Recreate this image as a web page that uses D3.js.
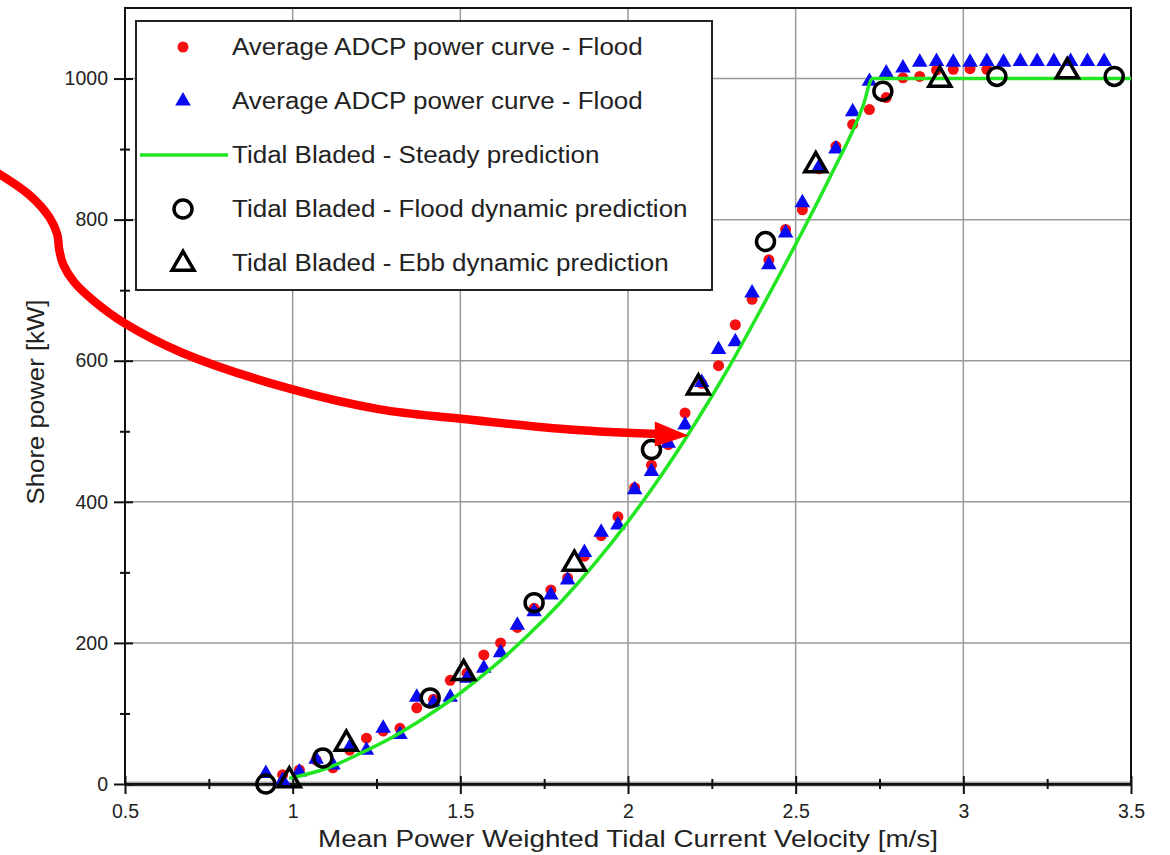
<!DOCTYPE html>
<html>
<head>
<meta charset="utf-8">
<script src="https://cdn.jsdelivr.net/npm/d3@7"></script>
<style>
body { margin: 0; background: #fff; }
text { font-family: "Liberation Sans", Arial, sans-serif; fill: #222; }
</style>
</head>
<body>
<div id="chart"></div>
<script>
// Average ADCP power curve (red dots)
var redV = [0.97, 1.02, 1.07, 1.12, 1.17, 1.22, 1.27, 1.32, 1.37, 1.42, 1.47, 1.52, 1.57, 1.62, 1.67, 1.72, 1.77, 1.82, 1.87, 1.92, 1.97,
            2.02, 2.07, 2.12, 2.17, 2.22, 2.27, 2.32, 2.37, 2.42, 2.47, 2.52, 2.57, 2.62, 2.67, 2.72, 2.77, 2.82, 2.87, 2.92, 2.97, 3.02, 3.07];
var redP = [13, 20, 34, 23, 48, 65, 75, 79, 108, 120, 147, 157, 183, 200, 222, 249, 275, 292, 323, 352, 379,
            420, 452, 481, 526, 568, 593, 651, 687, 743, 786, 814, 872, 904, 935, 956, 973, 1001, 1003, 1012, 1013, 1014, 1013];

// Average ADCP power curve (blue triangles)
var blueV = [0.92, 0.97, 1.02, 1.07, 1.12, 1.17, 1.22, 1.27, 1.32, 1.37, 1.42, 1.47, 1.52, 1.57, 1.62, 1.67, 1.72, 1.77, 1.82, 1.87, 1.92, 1.97,
             2.02, 2.07, 2.12, 2.17, 2.22, 2.27, 2.32, 2.37, 2.42, 2.47, 2.52, 2.57, 2.62, 2.67, 2.72, 2.77, 2.82, 2.87, 2.92, 2.97,
             3.02, 3.07, 3.12, 3.17, 3.22, 3.27, 3.32, 3.37, 3.42];
var blueP = [15, 5, 17, 35, 27, 52, 48, 79, 70, 123, 115, 123, 150, 164, 186, 225, 244, 268, 289, 328, 357, 367,
             417, 443, 483, 509, 569, 616, 627, 696, 736, 781, 824, 875, 900, 953, 996, 1008, 1015, 1023, 1024, 1023,
             1023, 1024, 1023, 1024, 1024, 1024, 1024, 1024, 1024];

// Tidal Bladed steady prediction
var steadyV = [0.99, 1.1, 1.2, 1.3, 1.4, 1.5, 1.6, 1.7, 1.8, 1.9, 2.0, 2.1, 2.2, 2.3, 2.4, 2.5, 2.6, 2.7, 2.73, 3.0, 3.5];
var steadyP = [8, 22, 43, 67, 96, 129, 167, 210, 258, 312, 372, 438, 511, 590, 676, 765, 858, 960, 1000, 1000, 1000];

// Tidal Bladed dynamic predictions
var floodDynV = [0.92, 1.09, 1.41, 1.72, 2.07, 2.41, 2.76, 3.10, 3.45];
var floodDynP = [0, 37, 122, 257, 474, 769, 982, 1003, 1003];
var ebbDynV = [0.99, 1.16, 1.51, 1.84, 2.21, 2.56, 2.93, 3.31];
var ebbDynP = [5, 57, 157, 312, 562, 877, 998, 1010];

var xMajor = [0.5, 1, 1.5, 2, 2.5, 3, 3.5];
var xMinor = [0.75, 1.25, 1.75, 2.25, 2.75, 3.25];
var yMajor = [0, 200, 400, 600, 800, 1000];
var yMinor = [100, 300, 500, 700, 900];

var legendLabels = ["Average ADCP power curve - Flood", "Average ADCP power curve - Flood",
  "Tidal Bladed - Steady prediction", "Tidal Bladed - Flood dynamic prediction", "Tidal Bladed - Ebb dynamic prediction"];

// annotation arrow, in chart units
var arrowPts = [[0.10, 872], [0.215, 835], [0.275, 803], [0.298, 779], [0.304, 757], [0.316, 736], [0.349, 711],
  [0.409, 684], [0.496, 654], [0.672, 611], [0.994, 560], [1.26, 531], [1.495, 518], [1.836, 502], [2.09, 496]];

var zip = function(a, b) { return a.map(function(v, i) { return [v, b[i]]; }); };

var svg = d3.select("#chart").append("svg")
    .attr("width", 1170)
    .attr("height", 855);

var x = d3.scaleLinear().domain([0.5, 3.5]).range([125, 1131]);
var y = d3.scaleLinear().domain([0, 1100]).range([784, 8]);

// grid
svg.append("g").selectAll("line").data([1, 1.5, 2, 2.5, 3]).enter().append("line")
    .attr("x1", x).attr("x2", x).attr("y1", y(0)).attr("y2", y(1100))
    .attr("stroke", "#999").attr("stroke-width", 1.5);
svg.append("g").selectAll("line").data([200, 400, 600, 800, 1000]).enter().append("line")
    .attr("x1", x(0.5)).attr("x2", x(3.5)).attr("y1", y).attr("y2", y)
    .attr("stroke", "#999").attr("stroke-width", 1.5);
svg.append("line")
    .attr("x1", x(0.5)).attr("x2", x(3.5)).attr("y1", y(0)).attr("y2", y(0))
    .attr("stroke", "#aaa").attr("stroke-width", 5);

// frame
svg.append("rect")
    .attr("x", x(0.5)).attr("y", y(1100))
    .attr("width", x(3.5) - x(0.5)).attr("height", y(0) - y(1100))
    .attr("fill", "none").attr("stroke", "#111").attr("stroke-width", 2);

// axes
var gx = svg.append("g").attr("transform", "translate(0," + y(0) + ")")
    .call(d3.axisBottom(x).tickValues(xMajor).tickFormat(d3.format("")).tickSize(10).tickSizeOuter(0).tickPadding(10));
gx.selectAll(".tick line").attr("y1", -8);
var gxm = svg.append("g").attr("transform", "translate(0," + y(0) + ")")
    .call(d3.axisBottom(x).tickValues(xMinor).tickFormat("").tickSize(5).tickSizeOuter(0));
gxm.selectAll(".tick line").attr("y1", -5);
gxm.select(".domain").remove();

var gy = svg.append("g").attr("transform", "translate(" + x(0.5) + ",0)")
    .call(d3.axisLeft(y).tickValues(yMajor).tickFormat(d3.format("d")).tickSize(11).tickSizeOuter(0).tickPadding(6));
gy.selectAll(".tick line").attr("x1", 8);
gy.select(".domain").remove();
var gym = svg.append("g").attr("transform", "translate(" + x(0.5) + ",0)")
    .call(d3.axisLeft(y).tickValues(yMinor).tickFormat("").tickSize(5).tickSizeOuter(0));
gym.selectAll(".tick line").attr("x1", 5);
gym.select(".domain").remove();

svg.selectAll(".tick line").attr("stroke", "#111").attr("stroke-width", 2);
svg.selectAll(".domain").attr("stroke", "#111").attr("stroke-width", 2.5);
svg.selectAll(".tick text").attr("font-size", 19.5).attr("font-family", "Liberation Sans, Arial, sans-serif").attr("fill", "#222");

// axis titles
svg.append("text")
    .attr("x", 628).attr("y", 847)
    .attr("text-anchor", "middle")
    .attr("font-size", 24)
    .attr("textLength", 620).attr("lengthAdjust", "spacingAndGlyphs")
    .text("Mean Power Weighted Tidal Current Velocity [m/s]");
svg.append("text")
    .attr("transform", "translate(44,402) rotate(-90)")
    .attr("text-anchor", "middle")
    .attr("font-size", 23)
    .attr("textLength", 205).attr("lengthAdjust", "spacingAndGlyphs")
    .text("Shore power [kW]");

// data marks
var triSmall = d3.symbol().type(d3.symbolTriangle).size(105);
var triOpen = d3.symbol().type(d3.symbolTriangle).size(210);

svg.append("g").selectAll("circle").data(zip(redV, redP)).enter().append("circle")
    .attr("cx", function(d) { return x(d[0]); })
    .attr("cy", function(d) { return y(d[1]); })
    .attr("r", 5.5)
    .attr("fill", "#f41010");

svg.append("g").selectAll("path").data(zip(blueV, blueP)).enter().append("path")
    .attr("d", triSmall)
    .attr("transform", function(d) { return "translate(" + x(d[0]) + "," + y(d[1]) + ")"; })
    .attr("fill", "#0a0af0");

svg.append("path")
    .datum(zip(steadyV, steadyP))
    .attr("d", d3.line().x(function(d) { return x(d[0]); }).y(function(d) { return y(d[1]); }).curve(d3.curveMonotoneX))
    .attr("fill", "none").attr("stroke", "#22e622").attr("stroke-width", 3.5);

svg.append("g").selectAll("circle").data(zip(floodDynV, floodDynP)).enter().append("circle")
    .attr("cx", function(d) { return x(d[0]); })
    .attr("cy", function(d) { return y(d[1]); })
    .attr("r", 9)
    .attr("fill", "none").attr("stroke", "#000").attr("stroke-width", 3.5);

svg.append("g").selectAll("path").data(zip(ebbDynV, ebbDynP)).enter().append("path")
    .attr("d", triOpen)
    .attr("transform", function(d) { return "translate(" + x(d[0]) + "," + y(d[1]) + ")"; })
    .attr("fill", "none").attr("stroke", "#000").attr("stroke-width", 3.5).attr("stroke-linejoin", "miter");

// legend
var legend = svg.append("g").attr("transform", "translate(136,21)");
legend.append("rect")
    .attr("width", 576).attr("height", 269)
    .attr("fill", "#fff").attr("stroke", "#222").attr("stroke-width", 2);

var rows = legend.selectAll("g.row").data(legendLabels).enter().append("g")
    .attr("class", "row")
    .attr("transform", function(d, i) { return "translate(0," + (26 + i * 54) + ")"; });
rows.append("text")
    .attr("x", 96).attr("dy", "0.35em")
    .attr("font-size", 23)
    .text(function(d) { return d; })
    .each(function() {
      // the source font is set a little wider than ours
      var w = this.getComputedTextLength();
      d3.select(this).attr("textLength", w * 1.13).attr("lengthAdjust", "spacingAndGlyphs");
    });

legend.append("circle").attr("cx", 47).attr("cy", 26).attr("r", 5.5).attr("fill", "#f41010");
legend.append("path").attr("d", triSmall).attr("transform", "translate(47,80)").attr("fill", "#0a0af0");
legend.append("line").attr("x1", 4).attr("x2", 92).attr("y1", 134).attr("y2", 134)
    .attr("stroke", "#22e622").attr("stroke-width", 3.5);
legend.append("circle").attr("cx", 47).attr("cy", 188).attr("r", 9)
    .attr("fill", "none").attr("stroke", "#000").attr("stroke-width", 3.5);
legend.append("path").attr("d", triOpen).attr("transform", "translate(47,243)")
    .attr("fill", "none").attr("stroke", "#000").attr("stroke-width", 3.5);

// red annotation arrow
svg.append("path")
    .datum(arrowPts)
    .attr("d", d3.line().x(function(d) { return x(d[0]); }).y(function(d) { return y(d[1]); }).curve(d3.curveCatmullRom.alpha(0.5)))
    .attr("fill", "none").attr("stroke", "#f00").attr("stroke-width", 8.5);
var tip = [2.18, 494], base = arrowPts[arrowPts.length - 1];
svg.append("path")
    .attr("d", "M" + x(base[0] - 0.01) + "," + (y(base[1]) - 12.5)
             + "L" + x(tip[0]) + "," + y(tip[1])
             + "L" + x(base[0] - 0.01) + "," + (y(base[1]) + 12.5) + "Z")
    .attr("fill", "#f00");
</script>
</body>
</html>
